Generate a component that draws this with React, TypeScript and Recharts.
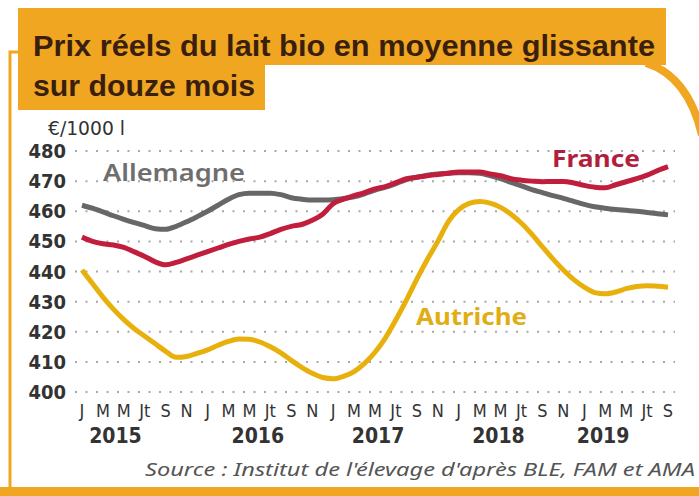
import React from "react";
import { LineChart, Line, XAxis, YAxis, CartesianGrid } from "recharts";

// Monthly values, Jan 2015 .. Sep 2019 (€/1000 l, 12-month rolling average)
const allemagne = [
  462, 461, 459.8, 458.5, 457.3, 456.2, 455.2, 454.2, 454, 455, 456.5, 458.2,
  460, 462, 464, 465.5, 466, 466, 466, 465.5, 464.5, 464, 463.7, 463.7,
  463.8, 464.2, 464.8, 465.8, 467, 468, 469.2, 470.5, 471.3, 472, 472.4, 472.6,
  472.8, 472.8, 472.6, 471.8, 470.8, 469.6, 468.4, 467.2, 466.2, 465.2, 464.3, 463.3,
  462.3, 461.5, 461, 460.6, 460.3, 460, 459.6, 459.2, 458.8,
];
const france = [
  451.4, 450, 449.2, 448.8, 448, 446.5, 445, 443.2, 442.2, 443, 444.2, 445.4,
  446.6, 447.8, 449, 450, 450.8, 451.4, 452.6, 454, 455, 455.6, 457, 459,
  462.5, 464, 465.2, 466.2, 467.4, 468.2, 469.5, 470.8, 471.3, 471.8, 472.2, 472.6,
  473, 473, 473, 472.4, 471.8, 470.8, 470.3, 470, 469.8, 469.9, 469.9, 469.4,
  468.6, 468, 467.8, 468.8, 469.8, 470.8, 472, 473.5, 474.8,
];
const autriche = [
  440.5, 436, 431.5, 427.5, 424, 421, 418.5, 416, 413.5, 411.5, 411.8, 412.8,
  414, 415.5, 416.8, 417.6, 417.5, 416.6, 415, 413, 410.5, 408.2, 406.2, 404.8,
  404.4, 405.2, 406.8, 409.5, 413.2, 418, 424, 430.5, 437.5, 444, 450, 456.5,
  460.5, 462.6, 463.2, 462.7, 461.3, 459, 456, 452.3, 448.2, 444.2, 440.5, 437.3,
  434.8, 433, 432.6, 433.2, 434.3, 435, 435.3, 435.1, 434.8,
];

const monthTickLabels = [
  "J", "M", "M", "Jt", "S", "N",
  "J", "M", "M", "Jt", "S", "N",
  "J", "M", "M", "Jt", "S", "N",
  "J", "M", "M", "Jt", "S", "N",
  "J", "M", "M", "Jt", "S",
];
const yearLabels = ["2015", "2016", "2017", "2018", "2019"];
const yearTickPos = [3.2, 16.8, 28.3, 39.8, 49.8];
const yTicks = [400, 410, 420, 430, 440, 450, 460, 470, 480];

const data = allemagne.map((v, i) => ({
  m: i,
  allemagne: v,
  france: france[i],
  autriche: autriche[i],
}));
const monthTicks = monthTickLabels.map((_, i) => i * 2);

const ORANGE = "#F1A622";
const COND = "'Liberation Sans Narrow','DejaVu Sans Condensed',Roboto,sans-serif";
const RALE = "'Noto Sans','Open Sans',sans-serif";
const TITLE = "'Liberation Sans',Arial,sans-serif";

const MonthTick = (props: any) => {
  const { x, y, payload } = props;
  const idx = Math.round(payload.value / 2);
  return (
    <text x={x} y={y} dy={25} textAnchor="middle" fontFamily={COND} fontSize={18} fill="#333">
      {monthTickLabels[idx]}
    </text>
  );
};

const YearTick = (props: any) => {
  const { x, y, payload } = props;
  const idx = yearTickPos.indexOf(payload.value);
  return (
    <text x={x} y={y} dy={29} textAnchor="middle" fontFamily={COND} fontSize={21} fontWeight={700} fill="#333">
      {yearLabels[idx]}
    </text>
  );
};

const YTick = (props: any) => {
  const { x, y, payload } = props;
  return (
    <text x={x} y={y} dy={7} textAnchor="end" fontFamily={COND} fontSize={20} fontWeight={700} fill="#333">
      {payload.value}
    </text>
  );
};

export default function App() {
  return (
    <div style={{ position: "absolute", left: 0, top: 0, width: 699, height: 496, background: "#fff" }}>
      <div style={{ position: "absolute", left: 0, top: 0 }}>
        <LineChart
          width={699}
          height={496}
          data={data}
          margin={{ top: 151, right: 24, left: 0, bottom: 52 }}
        >
          <CartesianGrid
            horizontal
            vertical={false}
            stroke="#a8a8a8"
            strokeWidth={2}
            strokeDasharray="2 8.5"
          />
          <XAxis
            xAxisId="m"
            dataKey="m"
            type="number"
            domain={[0, 56]}
            ticks={monthTicks}
            padding={{ left: 7, right: 7 }}
            axisLine={false}
            tickLine={false}
            tickSize={0}
            tickMargin={0}
            height={22}
            interval={0}
            tick={<MonthTick />}
          />
          <XAxis
            xAxisId="y"
            dataKey="m"
            type="number"
            domain={[0, 56]}
            ticks={yearTickPos}
            padding={{ left: 7, right: 7 }}
            axisLine={false}
            tickLine={false}
            tickSize={0}
            tickMargin={0}
            height={30}
            interval={0}
            tick={<YearTick />}
          />
          <YAxis
            domain={[400, 480]}
            ticks={yTicks}
            width={75}
            axisLine={false}
            tickLine={false}
            tickSize={0}
            tickMargin={9}
            interval={0}
            tick={<YTick />}
          />
          <Line xAxisId="m" type="monotone" dataKey="allemagne" stroke="#676767" strokeWidth={5} dot={false} isAnimationActive={false} />
          <Line xAxisId="m" type="monotone" dataKey="autriche" stroke="#E8B00C" strokeWidth={5} dot={false} isAnimationActive={false} />
          <Line xAxisId="m" type="monotone" dataKey="france" stroke="#C11D3C" strokeWidth={5} dot={false} isAnimationActive={false} />
        </LineChart>
      </div>
      <svg
        width={699}
        height={496}
        style={{ position: "absolute", left: 0, top: 0, pointerEvents: "none" }}
      >
        <rect x={18} y={8} width={648} height={57} fill={ORANGE} />
        <rect x={18} y={60} width={247} height={50} fill={ORANGE} />
        <path d="M 18 52 H 10 V 492" fill="none" stroke={ORANGE} strokeWidth={3} />
        <rect x={0} y={487} width={699} height={9} fill={ORANGE} />
        <path d="M 646 63 Q 688 76 702 135" fill="none" stroke={ORANGE} strokeWidth={8} />
        <text x={33} y={56} fontFamily={TITLE} fontWeight={700} fontSize={30} fill="#3a1f0f" textLength={622} lengthAdjust="spacingAndGlyphs">
          Prix réels du lait bio en moyenne glissante
        </text>
        <text x={33} y={96} fontFamily={TITLE} fontWeight={700} fontSize={30} fill="#3a1f0f" textLength={222} lengthAdjust="spacingAndGlyphs">
          sur douze mois
        </text>
        <text x={48} y={135} fontFamily={COND} fontSize={19} fill="#333" textLength={77} lengthAdjust="spacingAndGlyphs">
          €/1000 l
        </text>
        <text x={103} y={181} fontFamily={RALE} fontWeight={600} fontSize={23} fill="#6e6e6e" textLength={142} lengthAdjust="spacingAndGlyphs">
          Allemagne
        </text>
        <text x={552} y={167} fontFamily={RALE} fontWeight={700} fontSize={23} fill="#B21F3D" textLength={88} lengthAdjust="spacingAndGlyphs">
          France
        </text>
        <text x={416} y={325} fontFamily={RALE} fontWeight={700} fontSize={23} fill="#E0AE14" textLength={111} lengthAdjust="spacingAndGlyphs">
          Autriche
        </text>
        <text x={145} y={476} fontFamily={RALE} fontStyle="italic" fontSize={18} fill="#555" textLength={550} lengthAdjust="spacingAndGlyphs">
          Source : Institut de l'élevage d'après BLE, FAM et AMA
        </text>
      </svg>
    </div>
  );
}
